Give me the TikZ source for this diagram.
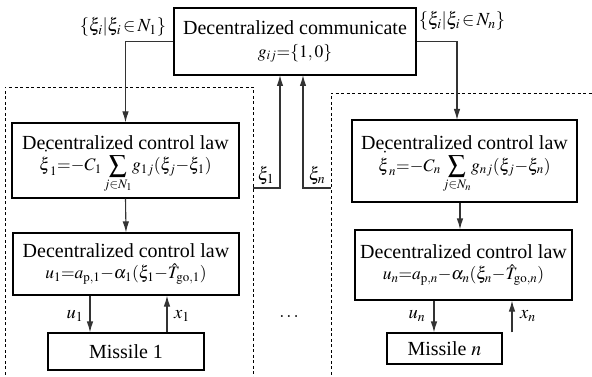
\documentclass[tikz,border=0pt]{standalone}
\usepackage{mathptmx}
\usepackage[no-math]{fontspec}
\setmainfont{Liberation Serif}
\usetikzlibrary{arrows.meta}
\newcommand{\mfs}{\fontsize{17.5}{20}\selectfont}
\newcommand{\dxi}{{\stackrel{\raisebox{-7pt}{$\cdot$}}{\xi}}}
\begin{document}
\begin{tikzpicture}[x=1pt,y=-1pt,
  box/.style={draw=black,line width=1.1pt,inner sep=0pt,align=center,font=\fontsize{20}{22}\selectfont},
  arr/.style={draw=black!80,line width=1.1pt,-{Latex[length=11pt,width=6.5pt]}},
  lbl/.style={font=\fontsize{18.5}{21}\selectfont,inner sep=1pt}]
\useasboundingbox (0,0) rectangle (592,377);
% dashed group frames
\draw[line width=0.9pt,dash pattern=on 3pt off 2.5pt] (5,380) -- (5,87) -- (253,87) -- (253,380);
\draw[line width=0.9pt,dash pattern=on 3pt off 2.5pt] (331,380) -- (331,93) -- (600,93);
% boxes
\node[box,minimum width=242,minimum height=67] (top) at (295,41.5)
  {Decentralized communicate\\[1pt]{\mfs$g_{ij}{=}\{1,0\}$}};
\node[box,minimum width=227,minimum height=75] (c1) at (125.5,160.5)
  {Decentralized control law\\[-4pt]{\mfs$\dxi_1{=}{-}C_1\displaystyle\sum_{j\in N_1}\!g_{1j}(\xi_j{-}\xi_1)$}\\[-8pt]};
\node[box,minimum width=226,minimum height=62] (d1) at (126,264)
  {Decentralized control law\\[-1pt]{\mfs$u_1{=}a_{\mathrm{p},1}{-}\alpha_1(\xi_1{-}\hat{T}_{\mathrm{go},1})$}};
\node[box,minimum width=156,minimum height=37] (m1) at (126,351.5) {Missile 1};
\node[box,minimum width=225,minimum height=82] (cn) at (464.5,161)
  {Decentralized control law\\[-4pt]{\mfs$\dxi_n{=}{-}C_n\displaystyle\sum_{j\in N_n}\!g_{nj}(\xi_j{-}\xi_n)$}\\[-8pt]};
\node[box,minimum width=217,minimum height=70] (dn) at (463.5,265)
  {Decentralized control law\\[-1pt]{\mfs$u_n{=}a_{\mathrm{p},n}{-}\alpha_n(\xi_n{-}\hat{T}_{\mathrm{go},n})$}};
\node[box,minimum width=115,minimum height=31] (mn) at (444.5,348.5) {Missile $n$};
% coordinates
\coordinate (cnin) at (457,120);
\coordinate (f1) at (253,188);
\coordinate (t1) at (280,75);
\coordinate (fn) at (331,188);
\coordinate (tn) at (303,75);
% connectors
\draw[arr] (top.west) -| (c1.north);
\draw[arr] (top.east) -| (cnin);
\draw[arr] (f1) -| (t1);
\draw[arr] (fn) -| (tn);
\draw[arr] (c1.south) -- (d1.north);
\draw[arr] (cn.south -| 460,0) -- (dn.north -| 460,0);
\draw[arr] (d1.south -| 90,0) -- (m1.north -| 90,0);
\draw[arr] (m1.north -| 167,0) -- (d1.south -| 167,0);
\draw[arr] (dn.south -| 434,0) -- (mn.north -| 434,0);
\draw[arr] (mn.north -| 512,0) -- (dn.south -| 512,0);
% labels
\node[lbl] (l1) at (123,27) {$\{\xi_i|\xi_i{\,\in\,}N_1\}$};
\node[lbl] (ln) at (462,21) {$\{\xi_i|\xi_i{\,\in\,}N_n\}$};
\node[lbl] (x1f) at (266,176) {$\xi_1$};
\node[lbl] (xnf) at (317,176) {$\xi_n$};
\node[lbl] (u1) at (75,316) {$u_1$};
\node[lbl] (x1) at (182,316) {$x_1$};
\node[lbl] (un) at (417,316) {$u_n$};
\node[lbl] (xn) at (528,316) {$x_n$};
\node[lbl] (dots) at (289,317) {$\ldots$};
\end{tikzpicture}
\end{document}
